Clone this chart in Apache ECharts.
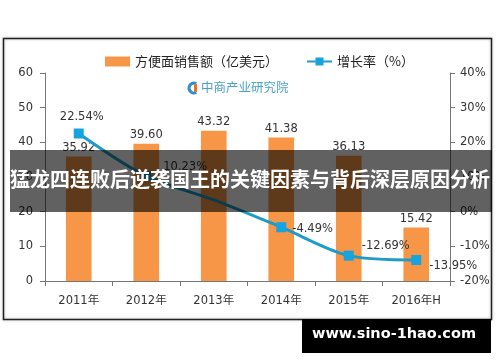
<!DOCTYPE html>
<html><head><meta charset="utf-8">
<script src="https://cdn.jsdelivr.net/npm/echarts@6/dist/echarts.min.js"></script>
<style>html,body{margin:0;padding:0;background:#fff}#c{width:500px;height:362px}</style>
</head><body><div id="c"></div>
<script>
const categories = ['2011年','2012年','2013年','2014年','2015年','2016年H'];
const sales = [35.92, 39.60, 43.32, 41.38, 36.13, 15.42];
const growth = [22.54, 10.23, 3.4, -4.49, -12.69, -13.95];
const growthLabelShown = [true, true, false, true, true, true];
const leftTicks = {min: 0, max: 60, interval: 10};
const rightTicks = {min: -20, max: 40, interval: 10};

const FONT = '"DejaVu Sans", "Noto Sans CJK SC", sans-serif';
const chart = echarts.init(document.getElementById('c'), null, {renderer: 'canvas'});

const labelPos = [
  {position: 'top', distance: 6, offset: [3, 0]},
  {position: 'right', distance: 12, offset: [0, -9]},
  {position: 'right', distance: 8},
  {position: 'right', distance: 6, offset: [0, 2]},
  {position: 'right', distance: 8, offset: [0, -10]},
  {position: 'right', distance: 8, offset: [0, 6]}
];

chart.setOption({
  animation: false,
  textStyle: {fontFamily: FONT},
  legend: {
    top: 50, left: 100, itemGap: 28, itemWidth: 25, itemHeight: 10,
    textStyle: {fontFamily: '"Noto Sans CJK SC", sans-serif', fontSize: 13, color: '#222'},
    data: [{name: '方便面销售额（亿美元）', icon: 'rect'}, {name: '增长率（%）'}]
  },
  grid: {left: 45, right: 50, top: 73, bottom: 81},
  xAxis: {
    type: 'category', data: categories,
    axisLine: {lineStyle: {color: '#777', width: 1}},
    axisTick: {show: true, length: 5, lineStyle: {color: '#777'}},
    axisLabel: {color: '#333', fontSize: 11.5, margin: 14, fontFamily: FONT}
  },
  yAxis: [
    {type: 'value', min: leftTicks.min, max: leftTicks.max, interval: leftTicks.interval,
     axisLine: {show: true, lineStyle: {color: '#777'}},
     axisTick: {show: true, length: 5, lineStyle: {color: '#777'}},
     splitLine: {show: false},
     axisLabel: {color: '#333', fontSize: 11.5, margin: 12, fontFamily: FONT}},
    {type: 'value', min: rightTicks.min, max: rightTicks.max, interval: rightTicks.interval,
     position: 'right',
     axisLine: {show: true, lineStyle: {color: '#777'}},
     axisTick: {show: true, length: 5, lineStyle: {color: '#777'}},
     splitLine: {show: false},
     axisLabel: {color: '#333', fontSize: 11.5, margin: 10, formatter: '{value}%', fontFamily: FONT}}
  ],
  series: [
    {name: '方便面销售额（亿美元）', type: 'bar', data: sales, barWidth: '38%',
     itemStyle: {color: '#F79646'},
     label: {show: true, position: 'top', distance: 3, color: '#333', fontSize: 11.5,
             fontFamily: FONT, formatter: p => p.value.toFixed(2)}},
    {name: '增长率（%）', type: 'line', yAxisIndex: 1, smooth: 0.3,
     symbol: 'rect', symbolSize: 10,
     lineStyle: {color: '#1E9BC6', width: 3},
     itemStyle: {color: '#17A3DF'},
     data: growth.map((v, i) => ({
       value: v,
       symbolSize: growthLabelShown[i] ? 10 : 0,
       label: Object.assign({show: growthLabelShown[i], color: '#333', fontSize: 11.5,
         fontFamily: FONT, formatter: p => p.value.toFixed(2) + '%'}, labelPos[i])
     }))}
  ],
  graphic: [
    {type: 'rect', z: -1, shape: {x: 3.5, y: 38.5, width: 488, height: 281},
     style: {fill: 'none', stroke: '#222', lineWidth: 1.5, shadowBlur: 3, shadowColor: 'rgba(0,0,0,0.3)'}},
    {type: 'arc', z: 10, shape: {cx: 194, cy: 88, r: 5, startAngle: Math.PI * 0.35, endAngle: Math.PI * 1.65},
     style: {stroke: '#2E8FC9', lineWidth: 3, fill: 'none'}},
    {type: 'rect', z: 10, shape: {x: 194, y: 84, width: 3, height: 8}, style: {fill: '#E8742A'}},
    {type: 'text', z: 10, left: 201, top: 81,
     style: {text: '中商产业研究院', fill: '#4AA3C8', font: '12.5px "Noto Sans CJK SC", sans-serif'}},
    {type: 'rect', z: 100, shape: {x: 10, y: 150, width: 482, height: 62},
     style: {fill: 'rgba(0,0,0,0.62)'}},
    {type: 'text', z: 101, left: 'center', top: 169,
     style: {text: '猛龙四连败后逆袭国王的关键因素与背后深层原因分析', fill: '#fff',
             font: 'bold 20px "Noto Sans CJK SC", sans-serif'}},
    {type: 'rect', z: 100, shape: {x: 302, y: 319, width: 189, height: 34}, style: {fill: '#000'}},
    {type: 'text', z: 101, left: 312, top: 327,
     style: {text: 'www.sino-1hao.com', fill: '#fff', font: 'bold 14.5px "DejaVu Sans", sans-serif'}}
  ]
});
</script></body></html>
